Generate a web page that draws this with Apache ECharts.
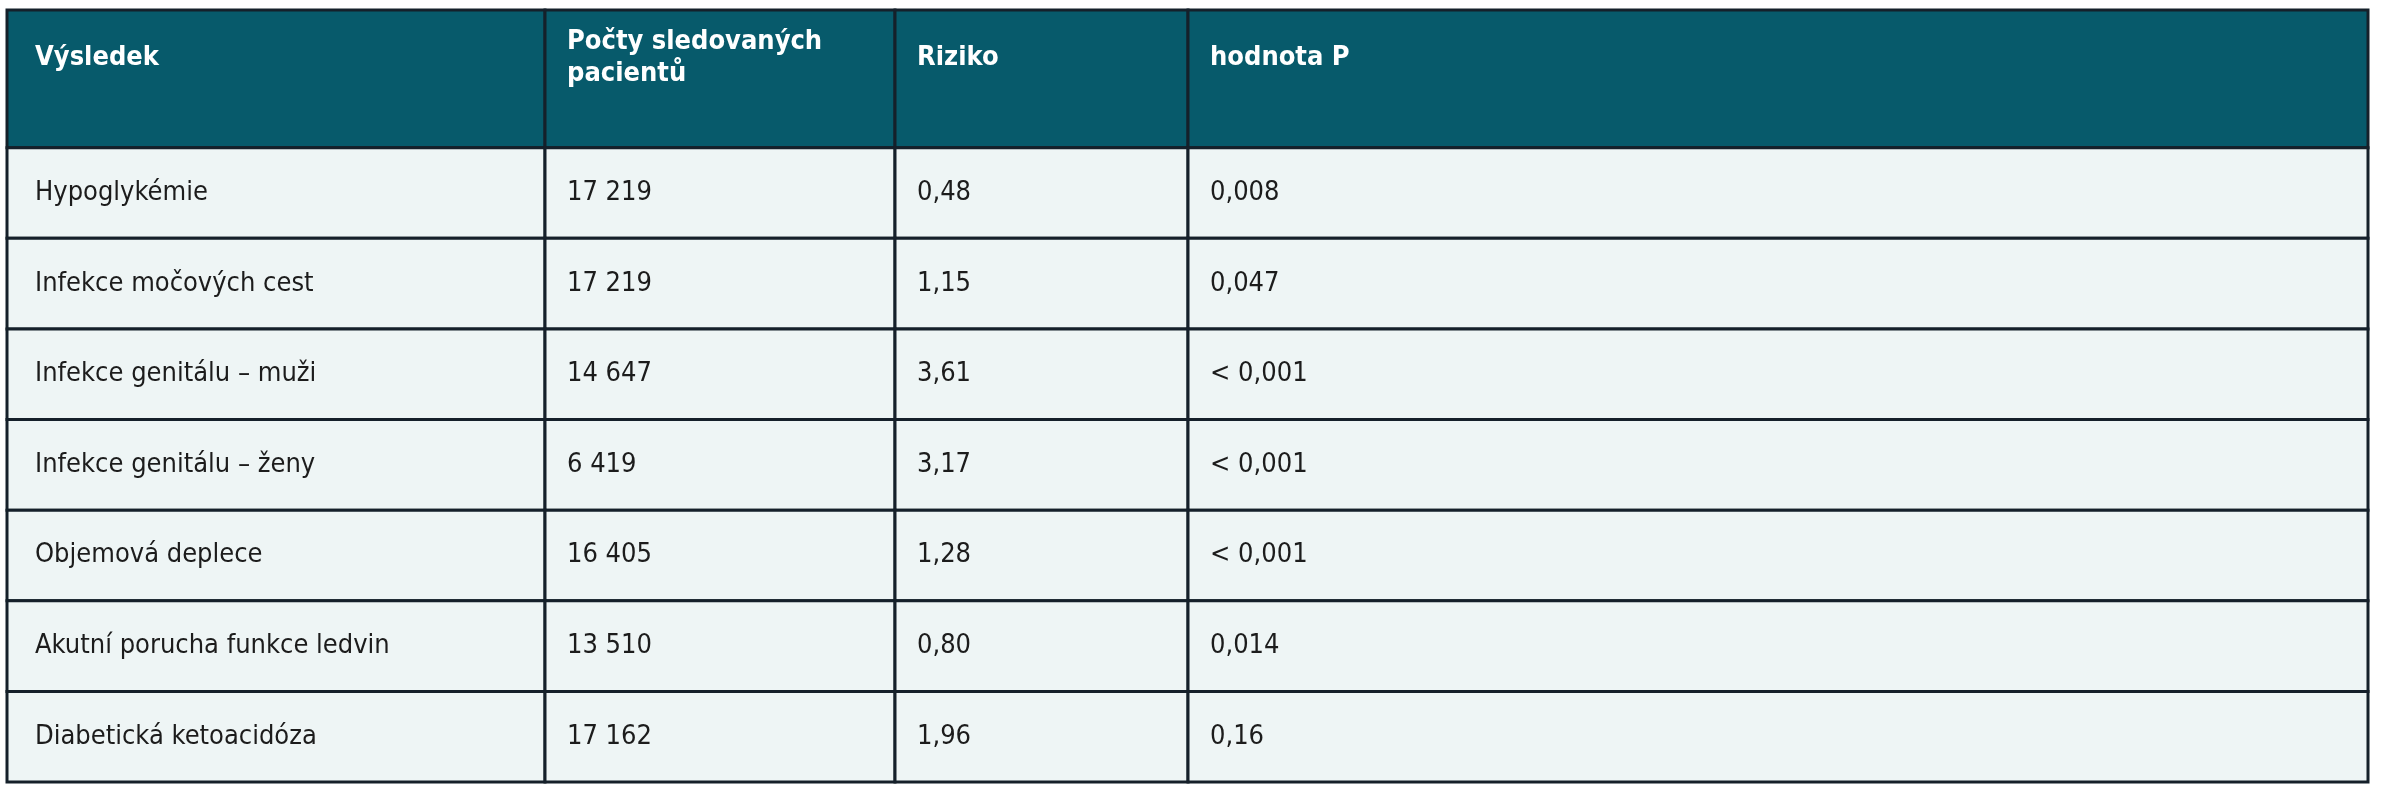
<!DOCTYPE html>
<html><head><meta charset="utf-8">
<script src="https://cdn.jsdelivr.net/npm/echarts@6/dist/echarts.min.js"></script>
<style>html,body{margin:0;padding:0;background:#fff}#c{width:2383px;height:800px}</style>
</head><body><div id="c"></div>
<script>
const headers = ['Výsledek', 'Počty sledovaných\npacientů', 'Riziko', 'hodnota P'];
const outcomes = ['Hypoglykémie','Infekce močových cest','Infekce genitálu – muži','Infekce genitálu – ženy','Objemová deplece','Akutní porucha funkce ledvin','Diabetická ketoacidóza'];
const patients = ['17 219','17 219','14 647','6 419','16 405','13 510','17 162'];
const risk = ['0,48','1,15','3,61','3,17','1,28','0,80','1,96'];
const pValues = ['0,008','0,047','< 0,001','< 0,001','< 0,001','0,014','0,16'];

const colEdges = [0, 538, 888, 1181, 2361];
const headerH = 1.52;
const FONT = '"Liberation Sans Narrow", "DejaVu Sans Condensed", "Noto Sans", sans-serif';

const cells = [];
headers.forEach((h, c) => cells.push([c, -1, h]));
const cols = [outcomes, patients, risk, pValues];
for (let r = 0; r < outcomes.length; r++) for (let c = 0; c < 4; c++) cells.push([c, r, cols[c][r]]);

function renderItem(params, api) {
  const c = api.value(0), r = api.value(1), txt = cells[params.dataIndex][2];
  const y0 = r < 0 ? 0 : headerH + r, y1 = r < 0 ? headerH : headerH + r + 1;
  const p0 = api.coord([colEdges[c], y0]);
  const p1 = api.coord([colEdges[c + 1], y1]);
  const isH = r < 0;
  return {
    type: 'group',
    children: [
      { type: 'rect', shape: { x: p0[0], y: p0[1], width: p1[0] - p0[0], height: p1[1] - p0[1] },
        style: { fill: isH ? '#075a6b' : '#eef5f5', stroke: '#15202a', lineWidth: 3 } },
      { type: 'text', style: { x: p0[0] + (c === 0 ? 28 : 22), y: (p0[1] + p1[1]) / 2 + (isH ? -21 : 0),
          text: txt, verticalAlign: 'middle', align: 'left',
          fill: isH ? '#ffffff' : '#1c1c1c', font: (isH ? 'bold ' : '') + '27px ' + FONT, lineHeight: 32 } }
    ]
  };
}

const chart = echarts.init(document.getElementById('c'));
chart.setOption({
  animation: false,
  grid: { left: 7, right: 15, top: 10, bottom: 18 },
  xAxis: { type: 'value', min: 0, max: colEdges[4], show: false },
  yAxis: { type: 'value', min: 0, max: headerH + outcomes.length, inverse: true, show: false },
  series: [{ type: 'custom', renderItem, data: cells.map(d => [d[0], d[1]]) }]
});
</script></body></html>
